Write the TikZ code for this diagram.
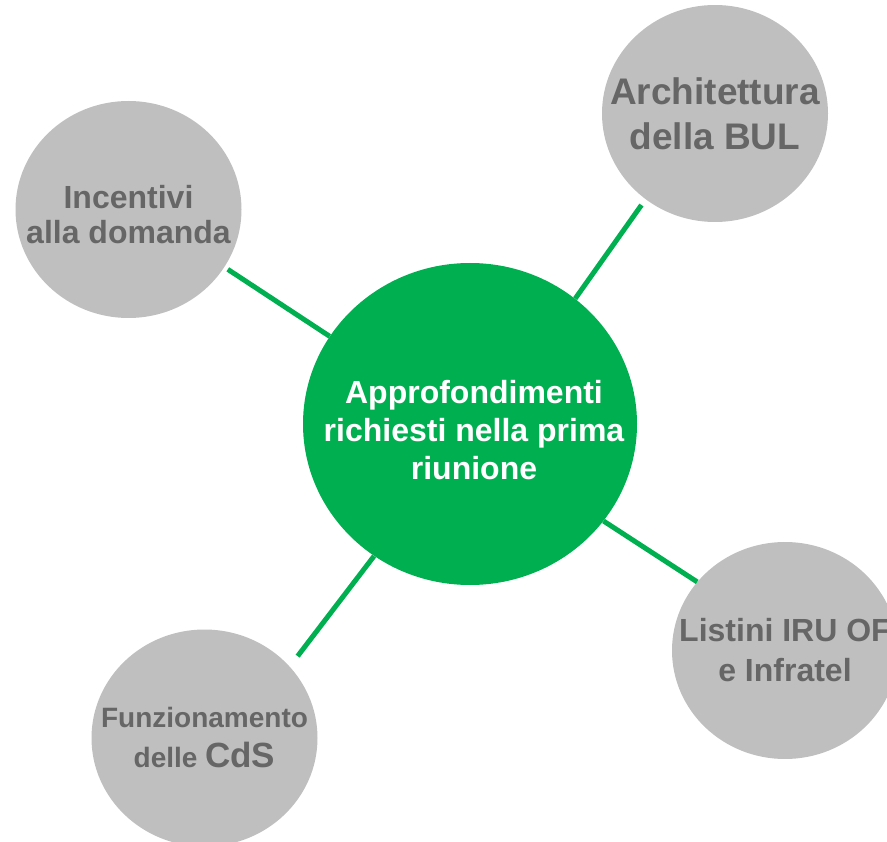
\documentclass[tikz,border=0pt]{standalone}
\usepackage{fontspec}
\setmainfont{Liberation Sans}
\usetikzlibrary{shapes.geometric}

\definecolor{hubgreen}{HTML}{00B050}
\definecolor{topicgray}{HTML}{BFBFBF}
\definecolor{textgray}{HTML}{666666}

\tikzset{
  hub/.style={ellipse, fill=hubgreen, minimum width=334pt, minimum height=322pt, inner sep=0pt},
  topic/.style={ellipse, fill=topicgray, minimum width=226pt, minimum height=217pt, inner sep=0pt},
  hubtext/.style={text=white, font=\bfseries\fontsize{32}{38}\selectfont, align=center},
  topictext/.style={text=textgray, font=\bfseries, align=center},
  spoke/.style={draw=hubgreen, line width=5pt}
}

\begin{document}
\begin{tikzpicture}[x=1pt, y=1pt]
\useasboundingbox (0,0) rectangle (887,-842);
\clip (0,0) rectangle (887,-842);

\node[hub, label={[hubtext, xshift=4pt, yshift=-6pt]center:Approfondimenti\\richiesti nella prima\\riunione}] (hub) at (470,-424) {};

\node[topic, label={[topictext, yshift=-5pt, font=\bfseries\fontsize{32}{35}\selectfont]center:Incentivi\\alla domanda}] (incentivi) at (128.5,-209.5) {};
\node[topic, label={[topictext, font=\bfseries\fontsize{37}{45}\selectfont]center:Architettura\\della BUL}] (bul) at (715,-113.5) {};
\node[topic, label={[topictext, font=\bfseries\fontsize{32}{40}\selectfont]center:Listini IRU OF\\e Infratel}] (listini) at (785,-650.5) {};
\node[topic, label={[topictext, font=\bfseries\fontsize{28}{40}\selectfont]center:Funzionamento\\delle {\fontsize{35}{40}\selectfont CdS}}] (cds) at (204.5,-738) {};

% spokes
\draw[spoke, shorten >=4pt] (hub.148.5) -- (incentivi.-31.3);
\draw[spoke, shorten >=7pt] (hub.50.7) -- (bul.-129.6);
\draw[spoke] (hub.-36.6) -- (listini.142.7);
\draw[spoke, shorten >=13pt] (hub.-126.9) -- (cds.40.3);
\end{tikzpicture}
\end{document}
